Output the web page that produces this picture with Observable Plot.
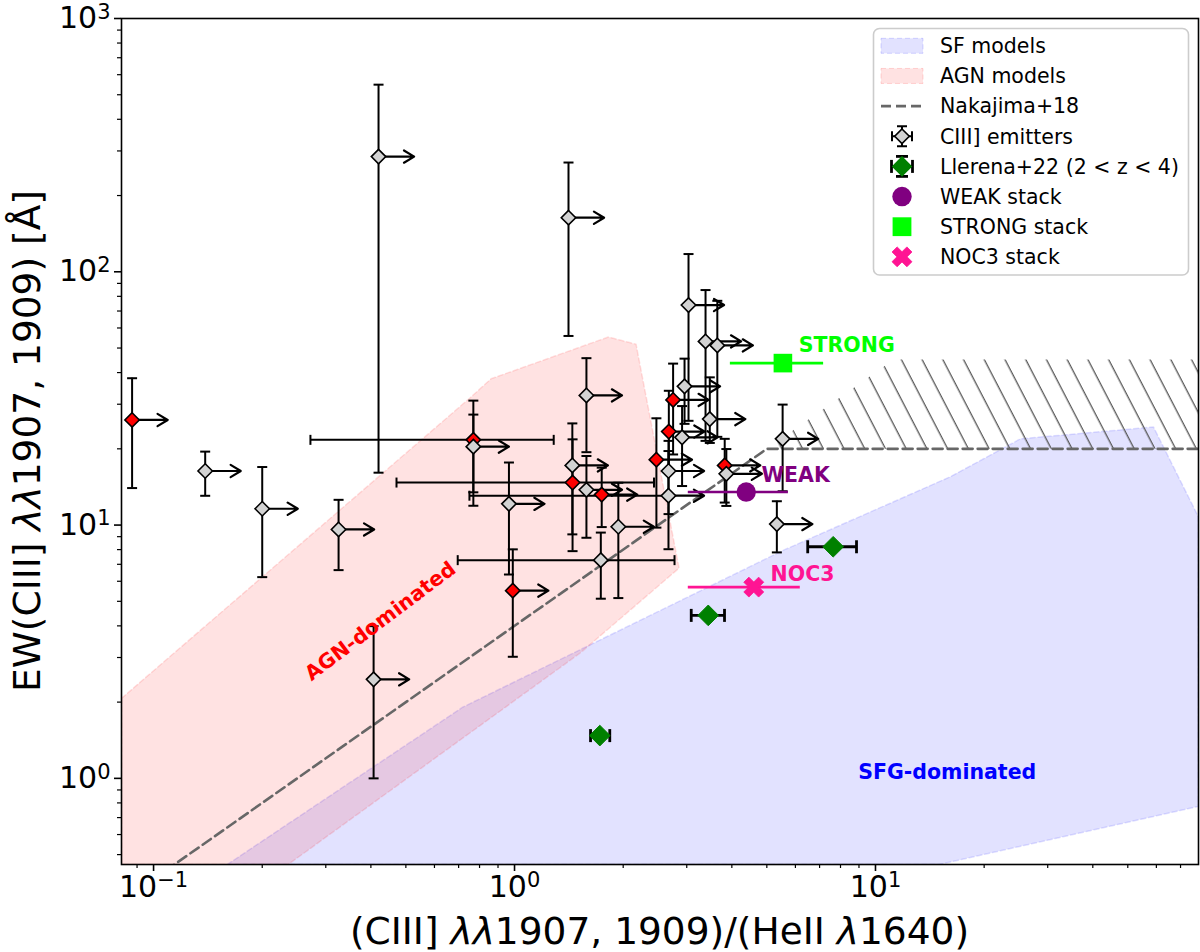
<!DOCTYPE html>
<html><head><meta charset="utf-8">
<script src="https://cdn.jsdelivr.net/npm/d3@7"></script>
<script src="https://cdn.jsdelivr.net/npm/@observablehq/plot@0.6"></script>
<style>
body{margin:0;background:#fff;}
#chart{width:1200px;height:952px;}
</style></head><body><div id="chart"></div>
<script>
// ---------- axis limits & ticks ----------
const xDomain = [0.0815, 78.5];
const yDomain = [0.457, 1000];
const xMajor = [0.1, 1, 10];
const yMajor = [1, 10, 100, 1000];
const xMinor = [0.09, 0.2, 0.3, 0.4, 0.5, 0.6, 0.7, 0.8, 0.9, 2, 3, 4, 5, 6, 7, 8, 9, 20, 30, 40, 50, 60, 70];
const yMinor = [0.5, 0.6, 0.7, 0.8, 0.9, 2, 3, 4, 5, 6, 7, 8, 9, 20, 30, 40, 50, 60, 70, 80, 90, 200, 300, 400, 500, 600, 700, 800, 900];

// ---------- model regions ----------
const sfX = [0.160, 0.718, 5.56, 16.1, 25.2, 58.9, 78.5, 78.5, 15.0, 0.160];
const sfY = [0.457, 1.909, 7.96, 15.5, 21.9, 24.4, 10.76, 0.775, 0.457, 0.457];
const agnX = [0.0815, 0.755, 0.861, 1.821, 2.171, 2.856, 1.523, 0.236, 0.0815, 0.0815];
const agnY = [2.07, 31.9, 37.8, 55.3, 51.8, 6.76, 3.13, 0.457, 0.457, 2.07];
const nakX = [0.1, 5, 78.5];
const nakY = [0.4, 20, 20];
const hatchX = [5, 11.25, 78.5, 78.5, 5];
const hatchY = [20, 45, 45, 20, 20];

// ---------- CIII] emitters ----------
const emX   = [0.0872,0.139,0.200,0.3255,0.407,0.420,1.411,0.769,0.769,1.582,1.446,1.448,1.582,1.744,0.965,1.939,1.734,0.989,2.472,2.671,2.670,2.676,2.750,2.958,2.912,3.034,3.382,3.646,3.475,3.822,3.862,5.53,5.33];
const emY   = [26.0,16.35,11.6,9.61,2.46,285,163.5,21.7,20.4,32.5,17.2,14.72,13.78,13.19,12.13,9.85,7.27,5.51,18.12,16.35,13.06,23.4,31.2,35.3,22.2,73.9,53.1,51.2,26.2,17.2,15.94,21.9,10.09];
const emYlo = [14.0,13.05,6.23,6.64,1.0,16.1,55.8,11.92,13.47,19.4,9.19,7.89,8.91,9.82,6.38,5.15,5.12,3.02,9.77,11.05,8.03,16.35,19.0,25.1,14.26,25.8,21.5,22.3,21.1,12.27,11.9,13.6,7.80];
const emYhi = [38.0,19.5,16.95,12.58,3.99,548,270,31.0,27.3,45.6,25.2,21.8,18.74,16.85,17.66,14.69,9.34,8.02,26.4,21.5,19.6,33.9,43.4,45.4,29.5,117.5,84.7,76.8,38.3,21.9,19.96,29.9,12.42];
const emXlo = [null,null,null,null,null,null,null,0.272,null,null,null,0.471,null,null,null,null,0.696,null,null,null,0.750,null,null,null,null,null,null,null,null,null,null,null,null];
const emXhi = [null,null,null,null,null,null,null,1.284,null,null,null,2.434,null,null,null,null,2.775,null,null,null,null,null,null,null,null,null,null,null,null,null,null,null,null];
const emAGN = [1,0,0,0,0,0,0,1,0,0,0,1,0,1,0,0,0,1,1,0,0,1,1,0,0,0,0,0,0,1,0,0,0];
const emLimit = [1,1,1,1,1,1,1,0,1,1,1,0,1,1,1,1,0,1,1,1,1,1,1,1,1,1,1,1,1,1,1,1,1];

// ---------- Llerena+22 ----------
const llX = [7.635, 3.441, 1.723];
const llY = [8.21, 4.40, 1.475];
const llXlo = [6.49, 3.087, 1.624];
const llXhi = [8.86, 3.817, 1.836];

// ---------- stacks ----------
const stackName = ["WEAK", "STRONG", "NOC3"];
const stackX = [4.384, 5.54, 4.60];
const stackY = [13.5, 43.6, 5.69];
const stackXlo = [3.02, 3.95, 3.02];
const stackXhi = [5.72, 7.16, 6.17];
const stackLabelX = [4.83, 6.13, 5.12];
const stackLabelY = [15.76, 51.0, 6.40];

// ---------- region labels ----------
const regionText = ["AGN-dominated", "SFG-dominated"];
const regionX = [0.425, 15.8];
const regionY = [4.17, 1.056];

// ---------- legend ----------
const legendLabels = ["SF models", "AGN models", "Nakajima+18", "CIII] emitters", "Llerena+22 (2 < z < 4)", "WEAK stack", "STRONG stack", "NOC3 stack"];

// ================= build =================
const pts = (xs, ys) => xs.map((x, i) => ({x, y: ys[i]}));
const sf = pts(sfX, sfY), agn = pts(agnX, agnY), nak = pts(nakX, nakY), hatch = pts(hatchX, hatchY);
const emitters = emX.map((x, i) => ({x, y: emY[i], ylo: emYlo[i], yhi: emYhi[i], xlo: emXlo[i], xhi: emXhi[i], agn: emAGN[i] === 1, lim: emLimit[i] === 1}));
const yCaps = emitters.flatMap(d => [{x: d.x, y: d.ylo}, {x: d.x, y: d.yhi}]);
const xSegs = emitters.filter(d => d.xlo != null).map(d => ({y: d.y, x1: d.xlo, x2: d.xhi ?? d.x}));
const xCaps = emitters.filter(d => d.xlo != null).flatMap(d => d.xhi != null ? [{x: d.xlo, y: d.y}, {x: d.xhi, y: d.y}] : [{x: d.xlo, y: d.y}]);
const llerena = llX.map((x, i) => ({x, y: llY[i], xlo: llXlo[i], xhi: llXhi[i]}));
const llCaps = llerena.flatMap(d => [{x: d.xlo, y: d.y}, {x: d.xhi, y: d.y}]);
const stacks = stackName.map((n, i) => ({name: n, x: stackX[i], y: stackY[i], xlo: stackXlo[i], xhi: stackXhi[i], lx: stackLabelX[i], ly: stackLabelY[i]}));
const stackColor = {WEAK: "#800080", STRONG: "#00ff00", NOC3: "#ff1493"};
const regions = regionText.map((t, i) => ({t, x: regionX[i], y: regionY[i]}));

const arrowFactor = 1.255; // arrow length (≈0.1 dex)
const capH = {draw(ctx) { ctx.moveTo(-5, 0); ctx.lineTo(5, 0); }};
const capV = {draw(ctx) { ctx.moveTo(0, -5); ctx.lineTo(0, 5); }};
const capVL = {draw(ctx) { ctx.moveTo(0, -6.5); ctx.lineTo(0, 6.5); }};
function xShape(ctx, s, t) {
  const p = [[t,-s],[t,-t],[s,-t],[s,t],[t,t],[t,s],[-t,s],[-t,t],[-s,t],[-s,-t],[-t,-t],[-t,-s]];
  const q = p.map(([x, y]) => [(x - y) / Math.SQRT2, (x + y) / Math.SQRT2]);
  ctx.moveTo(q[0][0], q[0][1]);
  for (let i = 1; i < q.length; i++) ctx.lineTo(q[i][0], q[i][1]);
  ctx.closePath();
}
const xSym = {draw(ctx) { xShape(ctx, 10.5, 3.6); }};
const fmt = d => "10^" + Math.round(Math.log10(d));

const svg = Plot.plot({
  width: 1200, height: 952,
  marginLeft: 121, marginRight: 2, marginTop: 18, marginBottom: 88,
  style: {fontFamily: "DejaVu Sans", background: "white", color: "black"},
  x: {type: "log", domain: xDomain},
  y: {type: "log", domain: yDomain},
  marks: [
    Plot.line(sf, {x: "x", y: "y", fill: "blue", fillOpacity: 0.115, stroke: "blue", strokeOpacity: 0.12, strokeWidth: 1.5, strokeDasharray: "5,3", clip: true}),
    Plot.line(agn, {x: "x", y: "y", fill: "red", fillOpacity: 0.115, stroke: "red", strokeOpacity: 0.12, strokeWidth: 1.5, strokeDasharray: "5,3", clip: true}),
    Plot.line(hatch, {x: "x", y: "y", fill: "url(#hatch)", stroke: "none", clip: true}),
    Plot.line(nak, {x: "x", y: "y", stroke: "#676767", strokeWidth: 2.6, strokeDasharray: "10,5", clip: true}),
    // emitters error bars
    Plot.ruleX(emitters, {x: "x", y1: "ylo", y2: "yhi", stroke: "black", strokeWidth: 2}),
    Plot.dot(yCaps, {x: "x", y: "y", symbol: capH, r: 5, fill: "none", stroke: "black", strokeWidth: 2}),
    Plot.link(xSegs, {x1: "x1", x2: "x2", y1: "y", y2: "y", stroke: "black", strokeWidth: 2}),
    Plot.dot(xCaps, {x: "x", y: "y", symbol: capV, r: 5, fill: "none", stroke: "black", strokeWidth: 2}),
    Plot.arrow(emitters.filter(d => d.lim), {x1: "x", y1: "y", x2: d => d.x * arrowFactor, y2: "y", stroke: "black", strokeWidth: 2.2, headLength: 9, headAngle: 62}),
    Plot.dot(emitters.filter(d => d.agn), {x: "x", y: "y", symbol: "diamond2", r: 6.5, fill: "red", stroke: "black", strokeWidth: 1.6}),
    Plot.dot(emitters.filter(d => !d.agn), {x: "x", y: "y", symbol: "diamond2", r: 6.5, fill: "#d3d3d3", stroke: "black", strokeWidth: 1.6}),
    // Llerena+22
    Plot.link(llerena, {x1: "xlo", x2: "xhi", y1: "y", y2: "y", stroke: "black", strokeWidth: 2.8}),
    Plot.dot(llCaps, {x: "x", y: "y", symbol: capVL, r: 5, fill: "none", stroke: "black", strokeWidth: 2.8}),
    Plot.dot(llerena, {x: "x", y: "y", symbol: "diamond2", r: 9.3, fill: "#008000", stroke: "#008000", strokeWidth: 1}),
    // stacks
    Plot.link(stacks, {x1: "xlo", x2: "xhi", y1: "y", y2: "y", stroke: d => stackColor[d.name], strokeWidth: 2.6}),
    Plot.dot(stacks.filter(d => d.name === "WEAK"), {x: "x", y: "y", r: 9.7, fill: "#800080"}),
    Plot.dot(stacks.filter(d => d.name === "STRONG"), {x: "x", y: "y", symbol: "square", r: 10.5, fill: "#00ff00"}),
    Plot.dot(stacks.filter(d => d.name === "NOC3"), {x: "x", y: "y", symbol: xSym, r: 10, fill: "#ff1493", stroke: "#ff1493", strokeWidth: 0.8}),
    Plot.text(stacks, {x: "lx", y: "ly", text: "name", fill: d => stackColor[d.name], textAnchor: "start", fontWeight: "bold", fontSize: 20.5}),
    Plot.text(regions.filter(d => d.t === "AGN-dominated"), {x: "x", y: "y", text: "t", fill: "red", fontWeight: "bold", fontSize: 20.5, rotate: -37}),
    Plot.text(regions.filter(d => d.t === "SFG-dominated"), {x: "x", y: "y", text: "t", fill: "blue", fontWeight: "bold", fontSize: 20.5}),
    // axes
    Plot.axisX(xMajor, {tickSize: 7, tickPadding: 4, tickFormat: fmt, fontSize: 30, label: null, strokeWidth: 1.6}),
    Plot.axisX(xMinor, {tickSize: 4, tickFormat: () => "", label: null, strokeWidth: 1.2}),
    Plot.axisY(yMajor, {tickSize: 7, tickPadding: 4, tickFormat: fmt, fontSize: 30, label: null, strokeWidth: 1.6}),
    Plot.axisY(yMinor, {tickSize: 4, tickFormat: () => "", label: null, strokeWidth: 1.2}),
    Plot.frame({stroke: "black", strokeWidth: 1.6})
  ]
});
document.getElementById("chart").append(svg);
const S = d3.select(svg);

// mathtext-like tick labels: 10 + raised exponent
S.selectAll("text").each(function() {
  const t = this.textContent;
  if (!/^10\^-?\d+$/.test(t)) return;
  const e = t.split("^")[1].replace("-", "\u2212");
  const el = d3.select(this);
  el.text(null);
  el.append("tspan").text("10");
  el.append("tspan").attr("font-size", 21).attr("dy", "-0.45em").text(e);
});

// hatch pattern
const defs = S.insert("defs", ":first-child");
const pat = defs.append("pattern").attr("id", "hatch").attr("patternUnits", "userSpaceOnUse")
  .attr("width", 18.4).attr("height", 20).attr("patternTransform", "rotate(-27.4)");
pat.append("line").attr("x1", 9).attr("x2", 9).attr("y1", -2).attr("y2", 22).attr("stroke", "#555").attr("stroke-width", 1.3);

// axis labels
const xl = S.append("text").attr("x", 659.5).attr("y", 944).attr("text-anchor", "middle")
  .attr("font-family", "DejaVu Sans").attr("font-size", 37.5).attr("fill", "black");
xl.append("tspan").text("(CIII] ");
xl.append("tspan").attr("font-style", "italic").text("λλ");
xl.append("tspan").text("1907, 1909)/(HeII ");
xl.append("tspan").attr("font-style", "italic").text("λ");
xl.append("tspan").text("1640)");
const yl = S.append("text").attr("transform", "translate(40,441) rotate(-90)").attr("text-anchor", "middle")
  .attr("font-family", "DejaVu Sans").attr("font-size", 37.5).attr("fill", "black");
yl.append("tspan").text("EW(CIII] ");
yl.append("tspan").attr("font-style", "italic").text("λλ");
yl.append("tspan").text("1907, 1909) [Å]");

// legend
const lg = S.append("g").attr("font-family", "DejaVu Sans").attr("text-anchor", "start");
lg.append("rect").attr("x", 873.5).attr("y", 28.5).attr("width", 315).attr("height", 246.5).attr("rx", 6)
  .attr("fill", "white").attr("fill-opacity", 0.8).attr("stroke", "#cccccc").attr("stroke-width", 1.6);
const hx = 902, rowY = i => 45.8 + i * 30.15;
legendLabels.forEach((t, i) => {
  lg.append("text").attr("x", 940).attr("y", rowY(i)).attr("dy", "0.36em").attr("text-anchor", "start").attr("font-size", 20.5).attr("fill", "black").text(t);
});
const line = (g, x1, y1, x2, y2, c, w) => g.append("line").attr("x1", x1).attr("y1", y1).attr("x2", x2).attr("y2", y2).attr("stroke", c).attr("stroke-width", w);
// SF / AGN patches
lg.append("rect").attr("x", 881).attr("y", rowY(0) - 7.5).attr("width", 42).attr("height", 15).attr("fill", "blue").attr("fill-opacity", 0.115).attr("stroke", "blue").attr("stroke-opacity", 0.15).attr("stroke-dasharray", "5,3");
lg.append("rect").attr("x", 881).attr("y", rowY(1) - 7.5).attr("width", 42).attr("height", 15).attr("fill", "red").attr("fill-opacity", 0.115).attr("stroke", "red").attr("stroke-opacity", 0.15).attr("stroke-dasharray", "5,3");
line(lg, 881, rowY(2), 923, rowY(2), "#676767", 2.6).attr("stroke-dasharray", "10,5");
// CIII] emitters
{
  const y = rowY(3);
  line(lg, hx, y - 10, hx, y + 10, "black", 2);
  line(lg, hx - 5, y - 10, hx + 5, y - 10, "black", 2);
  line(lg, hx - 5, y + 10, hx + 5, y + 10, "black", 2);
  line(lg, hx - 10, y, hx + 10, y, "black", 2);
  line(lg, hx - 10, y - 5, hx - 10, y + 5, "black", 2);
  line(lg, hx + 10, y - 5, hx + 10, y + 5, "black", 2);
  lg.append("path").attr("d", `M${hx},${y - 7.3}L${hx + 7.3},${y}L${hx},${y + 7.3}L${hx - 7.3},${y}Z`).attr("fill", "#d3d3d3").attr("stroke", "black").attr("stroke-width", 1.6);
}
// Llerena
{
  const y = rowY(4);
  line(lg, hx - 10.5, y, hx + 10.5, y, "black", 2.8);
  line(lg, hx - 10.5, y - 6.5, hx - 10.5, y + 6.5, "black", 2.8);
  line(lg, hx + 10.5, y - 6.5, hx + 10.5, y + 6.5, "black", 2.8);
  line(lg, hx - 6, y - 10, hx + 6, y - 10, "black", 2.8);
  line(lg, hx - 6, y + 10, hx + 6, y + 10, "black", 2.8);
  lg.append("path").attr("d", `M${hx},${y - 10.3}L${hx + 10.3},${y}L${hx},${y + 10.3}L${hx - 10.3},${y}Z`).attr("fill", "#008000");
}
lg.append("circle").attr("cx", hx).attr("cy", rowY(5)).attr("r", 9.7).attr("fill", "#800080");
lg.append("rect").attr("x", hx - 9.4).attr("y", rowY(6) - 9.4).attr("width", 18.8).attr("height", 18.8).attr("fill", "#00ff00");
{
  const p = d3.path(); xShape(p, 10.5, 3.6);
  lg.append("path").attr("d", p.toString()).attr("transform", `translate(${hx},${rowY(7)})`).attr("fill", "#ff1493").attr("stroke", "#ff1493").attr("stroke-width", 0.8);
}
</script></body></html>
